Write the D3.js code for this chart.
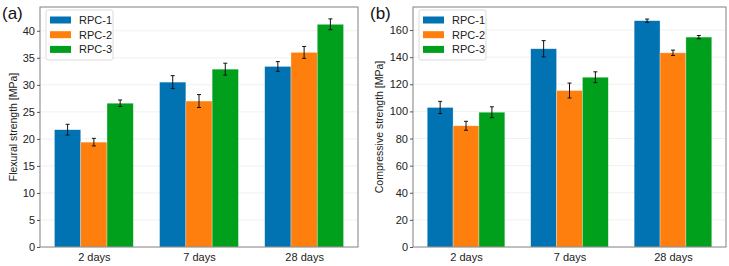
<!DOCTYPE html>
<html>
<head>
<meta charset="utf-8">
<script src="https://cdn.jsdelivr.net/npm/d3@7"></script>
<style>
    body { margin: 0; background: #fff; }
    svg { font-family: "Liberation Sans", Arial, sans-serif; }
    .tick text { font-size: 11px; fill: #222; }
    .axis-label { font-size: 10.5px; fill: #222; }
    .panel-tag { font-size: 17px; fill: #111; }
</style>
</head>
<body>
<div id="chart"></div>
<script>
const ages = ["2 days", "7 days", "28 days"];
const mixes = ["RPC-1", "RPC-2", "RPC-3"];
const colors = ["#0173b2", "#ff7f0e", "#00a01c"];

// flexural strength [MPa], one array per mix (2, 7, 28 days)
const flexRPC1 = [21.7, 30.5, 33.4];
const flexRPC2 = [19.4, 27.0, 36.0];
const flexRPC3 = [26.6, 32.9, 41.2];
const flexErr1 = [1.0, 1.2, 0.9];
const flexErr2 = [0.7, 1.2, 1.1];
const flexErr3 = [0.6, 1.1, 1.0];
const flexTicks = [0, 5, 10, 15, 20, 25, 30, 35, 40];

// compressive strength [MPa]
const compRPC1 = [102.9, 146.2, 166.9];
const compRPC2 = [89.4, 115.4, 143.2];
const compRPC3 = [99.4, 125.2, 154.8];
const compErr1 = [4.5, 6.0, 1.2];
const compErr2 = [3.3, 5.5, 2.0];
const compErr3 = [4.0, 4.0, 1.2];
const compTicks = [0, 20, 40, 60, 80, 100, 120, 140, 160];

const W = 729, H = 266;
const svg = d3.select("#chart").append("svg")
    .attr("width", W)
    .attr("height", H);

function drawPanel(opt) {
    const { left, right, top, bottom, yMax, ticks, series, errors, label, tag } = opt;
    const g = svg.append("g");

    // matplotlib-style x: groups at 0,1,2 with bars of width 0.25
    const barW = 0.25;
    const x = d3.scaleLinear().domain([-0.5125, 2.5125]).range([left, right]);
    const y = d3.scaleLinear().domain([0, yMax]).range([bottom, top]);

    // grid
    g.append("g").selectAll("line")
        .data(ticks.filter(t => t > 0))
        .join("line")
        .attr("x1", left).attr("x2", right)
        .attr("y1", d => y(d)).attr("y2", d => y(d))
        .attr("stroke", "#ececec")
        .attr("stroke-width", 0.8);

    // bars
    mixes.forEach((m, si) => {
        const off = (si - 1) * barW;
        const vals = series[si];
        const errs = errors[si];
        const sg = g.append("g");
        sg.selectAll("rect")
            .data(vals)
            .join("rect")
            .attr("x", (d, i) => x(i + off - barW / 2))
            .attr("width", x(barW) - x(0))
            .attr("y", d => y(d))
            .attr("height", d => bottom - y(d))
            .attr("fill", colors[si])
            .attr("stroke", "#ffffff")
            .attr("stroke-opacity", 0.5)
            .attr("stroke-width", 0.6);

        const eb = sg.append("g").selectAll("g")
            .data(vals.map((v, i) => ({ v, e: errs[i], i })))
            .join("g")
            .attr("stroke", "#111")
            .attr("stroke-width", 1);
        eb.append("line")
            .attr("x1", d => x(d.i + off)).attr("x2", d => x(d.i + off))
            .attr("y1", d => y(d.v - d.e)).attr("y2", d => y(d.v + d.e));
        eb.append("line")
            .attr("x1", d => x(d.i + off) - 2).attr("x2", d => x(d.i + off) + 2)
            .attr("y1", d => y(d.v + d.e)).attr("y2", d => y(d.v + d.e));
        eb.append("line")
            .attr("x1", d => x(d.i + off) - 2).attr("x2", d => x(d.i + off) + 2)
            .attr("y1", d => y(d.v - d.e)).attr("y2", d => y(d.v - d.e));
    });

    // frame
    g.append("rect")
        .attr("x", left).attr("y", top)
        .attr("width", right - left).attr("height", bottom - top)
        .attr("fill", "none")
        .attr("stroke", "#808080")
        .attr("stroke-width", 1);

    // axes
    const yAxis = g.append("g")
        .attr("transform", `translate(${left},0)`)
        .call(d3.axisLeft(y).tickValues(ticks).tickSize(3).tickPadding(2));
    yAxis.select(".domain").remove();
    yAxis.selectAll(".tick line").attr("stroke", "#555");

    const xAxis = g.append("g")
        .attr("transform", `translate(0,${bottom})`)
        .call(d3.axisBottom(x).tickValues([0, 1, 2]).tickFormat(i => ages[i]).tickSize(0).tickPadding(6));
    xAxis.select(".domain").remove();

    g.append("text")
        .attr("class", "axis-label")
        .attr("transform", `translate(${opt.labelX},${(top + bottom) / 2}) rotate(-90)`)
        .attr("text-anchor", "middle")
        .text(label);

    g.append("text")
        .attr("class", "panel-tag")
        .attr("x", opt.tagX)
        .attr("y", 19)
        .text(tag);

    // legend
    const lg = g.append("g").attr("transform", `translate(${left + 6},${top + 3})`);
    lg.append("rect")
        .attr("width", 67).attr("height", 50)
        .attr("rx", 2)
        .attr("fill", "#fff")
        .attr("fill-opacity", 0.85)
        .attr("stroke", "#dcdcdc");
    const items = lg.selectAll("g.item")
        .data(mixes)
        .join("g")
        .attr("class", "item")
        .attr("transform", (d, i) => `translate(4,${10 + i * 14.7})`);
    items.append("rect")
        .attr("y", -3.5)
        .attr("width", 21).attr("height", 7)
        .attr("fill", (d, i) => colors[i]);
    items.append("text")
        .attr("x", 29)
        .attr("dy", "0.35em")
        .style("font-size", "11px")
        .attr("fill", "#222")
        .text(d => d);
}

drawPanel({
    left: 40, right: 358, top: 7, bottom: 247, yMax: 44.4,
    ticks: flexTicks,
    series: [flexRPC1, flexRPC2, flexRPC3],
    errors: [flexErr1, flexErr2, flexErr3],
    label: "Flexural strength [MPa]", labelX: 17,
    tag: "(a)", tagX: 2
});

drawPanel({
    left: 413, right: 726, top: 7, bottom: 247, yMax: 177,
    ticks: compTicks,
    series: [compRPC1, compRPC2, compRPC3],
    errors: [compErr1, compErr2, compErr3],
    label: "Compressive strength [MPa]", labelX: 383,
    tag: "(b)", tagX: 370
});
</script>
</body>
</html>
